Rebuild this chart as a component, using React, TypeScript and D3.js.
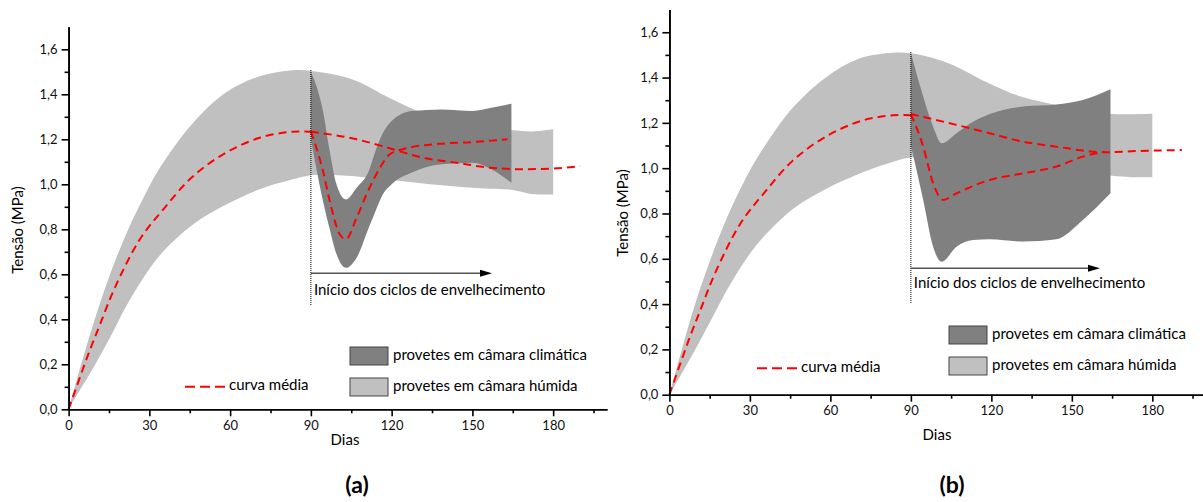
import React, { useEffect, useRef } from "react";
import * as d3 from "d3";

// dias e tensões
const humidaDays = [0, 3, 9.2, 15.4, 21.6, 27.8, 33.9, 46.3, 58.7, 71, 83.4, 90, 100, 107, 119, 131, 144, 156, 165, 172, 180];
const humidaUpperA = [0, 0.13, 0.38, 0.6, 0.785, 0.94, 1.074, 1.274, 1.41, 1.48, 1.507, 1.504, 1.485, 1.459, 1.385, 1.32, 1.27, 1.245, 1.24, 1.235, 1.245];
const humidaLowerA = [0, 0.062, 0.185, 0.319, 0.462, 0.585, 0.685, 0.822, 0.911, 0.978, 1.022, 1.04, 1.04, 1.035, 1.02, 1.005, 0.99, 0.98, 0.975, 0.957, 0.955];
const humidaUpperB = [0, 0.13, 0.386, 0.6, 0.785, 0.94, 1.068, 1.271, 1.404, 1.485, 1.51, 1.507, 1.48, 1.448, 1.375, 1.316, 1.279, 1.25, 1.239, 1.238, 1.24];
const humidaLowerB = [0, 0.062, 0.19, 0.327, 0.465, 0.585, 0.681, 0.822, 0.91, 0.976, 1.028, 1.047, 1.04, 1.035, 1.02, 1.0, 0.985, 0.975, 0.966, 0.96, 0.96];

const climaDaysA = [90, 94.5, 97, 99.5, 103, 107, 111.5, 114, 116.5, 120, 127.5, 138.5, 150, 157, 164.5];
const climaUpperA = [1.5, 1.326, 1.148, 1.0, 0.933, 0.985, 1.059, 1.148, 1.222, 1.281, 1.326, 1.333, 1.326, 1.34, 1.358];
const climaLowerA = [1.2, 0.926, 0.8, 0.69, 0.629, 0.674, 0.807, 0.88, 0.95, 1.0, 1.052, 1.089, 1.096, 1.067, 1.007];

const climaDaysB = [90, 94.6, 98.3, 101.5, 107, 113.2, 119.4, 131.8, 144.2, 154.1, 164.4];
const climaUpperB = [1.51, 1.316, 1.183, 1.11, 1.154, 1.205, 1.239, 1.272, 1.281, 1.301, 1.348];
const climaLowerB = [1.1, 0.86, 0.653, 0.587, 0.653, 0.683, 0.686, 0.676, 0.686, 0.771, 0.889];

const mediaDays = [0, 7.3, 11.7, 17.2, 26.5, 35.2, 45.7, 57.4, 71, 83.4, 90];
const mediaValues = [0, 0.244, 0.378, 0.541, 0.756, 0.889, 1.03, 1.133, 1.207, 1.234, 1.234];

const mediaHumidaDaysA = [90, 107, 119.3, 131.7, 144, 156.4, 168.8, 180, 190];
const mediaHumidaA = [1.234, 1.2, 1.16, 1.118, 1.096, 1.074, 1.067, 1.07, 1.08];
const mediaClimaDaysA = [90, 94.5, 97, 100.7, 103, 107, 110.7, 115.7, 119.3, 125.5, 137.9, 150.3, 158.9, 163];
const mediaClimaA = [1.234, 1.059, 0.926, 0.778, 0.756, 0.852, 0.956, 1.074, 1.133, 1.16, 1.18, 1.188, 1.196, 1.2];

const mediaHumidaDaysB = [90, 107, 119.4, 131.8, 144.2, 162.2, 175, 191];
const mediaHumidaB = [1.239, 1.191, 1.154, 1.117, 1.095, 1.07, 1.076, 1.08];
const mediaClimaDaysB = [90, 94.6, 98.3, 102, 107, 119.4, 131.8, 144.2, 154.1, 162.2];
const mediaClimaB = [1.239, 1.095, 0.933, 0.86, 0.889, 0.948, 0.977, 1.007, 1.051, 1.073];

const xMajor = [0, 30, 60, 90, 120, 150, 180];
const xMinor = [15, 45, 75, 105, 135, 165, 195];
const yMajor = [0, 0.2, 0.4, 0.6, 0.8, 1.0, 1.2, 1.4, 1.6];
const yMinor = [0.1, 0.3, 0.5, 0.7, 0.9, 1.1, 1.3, 1.5];

const FONT = "Lato, 'Open Sans', sans-serif";
const LIGHT = "#c0c0c0";
const DARK = "#808080";

type P = [number, number];
const zip = (xs: number[], ys: number[]): P[] => xs.map((x, i) => [x, ys[i]]);

function Panel(props: any) {
  const { x, y, humU, humL, cliDays, cliU, cliL, medHumDays, medHum, medCliDays, medCli, lay, tag } = props;
  const xRef = useRef<SVGGElement>(null);
  const xMinRef = useRef<SVGGElement>(null);
  const yRef = useRef<SVGGElement>(null);
  const yMinRef = useRef<SVGGElement>(null);

  useEffect(() => {
    const fmt = (d: any) => d3.format(".1f")(d).replace(".", ",");
    d3.select(xRef.current).call(d3.axisBottom(x).tickValues(xMajor).tickSize(7).tickSizeOuter(0).tickPadding(4));
    d3.select(xMinRef.current).call(d3.axisBottom(x).tickValues(xMinor).tickSize(4).tickFormat(() => "").tickSizeOuter(0));
    d3.select(yRef.current).call(d3.axisLeft(y).tickValues(yMajor).tickSize(7).tickSizeOuter(0).tickPadding(4).tickFormat(fmt));
    d3.select(yMinRef.current).call(d3.axisLeft(y).tickValues(yMinor).tickSize(4).tickFormat(() => "").tickSizeOuter(0));
    [xRef, yRef, xMinRef, yMinRef].forEach((r) => {
      const g = d3.select(r.current);
      g.selectAll("path").attr("stroke", "#000").attr("stroke-width", 1.6);
      g.selectAll("line").attr("stroke", "#000").attr("stroke-width", 1.6);
      g.selectAll("text").attr("font-family", FONT).attr("font-size", 13).attr("fill", "#111");
    });
  }, [x, y]);

  const band = d3
    .area<any>()
    .x((d) => x(d.day))
    .y0((d) => y(d.lo))
    .y1((d) => y(d.hi));
  const line = d3
    .line<P>()
    .x((d) => x(d[0]))
    .y((d) => y(d[1]));
  const smooth = d3.curveCatmullRom.alpha(0.5);

  const hum = humidaDays.map((d, i) => ({ day: d, hi: humU[i], lo: humL[i] }));
  const cli = cliDays.map((d: number, i: number) => ({ day: d, hi: cliU[i], lo: cliL[i] }));
  const red = { fill: "none", stroke: "#ff0000", strokeWidth: 2, strokeDasharray: "8,5" };

  return (
    <g>
      <path d={band.curve(smooth)(hum) || ""} fill={LIGHT} />
      <path d={band.curve(d3.curveMonotoneX)(cli) || ""} fill={DARK} />
      <path d={line.curve(smooth)(zip(mediaDays, mediaValues)) || ""} {...red} />
      <path d={line.curve(d3.curveMonotoneX)(zip(medHumDays, medHum)) || ""} {...red} />
      <path d={line.curve(d3.curveMonotoneX)(zip(medCliDays, medCli)) || ""} {...red} />

      <line x1={x(90)} x2={x(90)} y1={lay.dotTop} y2={lay.dotBottom} stroke="#000" strokeWidth={1} strokeDasharray="1,1" />
      <line x1={x(90)} x2={lay.arrowEnd - 8} y1={lay.arrowY} y2={lay.arrowY} stroke="#555" strokeWidth={1.6} />
      <polygon points={`${lay.arrowEnd},${lay.arrowY} ${lay.arrowEnd - 12},${lay.arrowY - 3.5} ${lay.arrowEnd - 12},${lay.arrowY + 3.5}`} fill="#000" />
      <text x={x(90) + 3} y={lay.noteY} dominantBaseline="middle" fontFamily={FONT} fontSize={15} fill="#000">
        Início dos ciclos de envelhecimento
      </text>

      <g ref={xMinRef} transform={`translate(0,${y(0)})`} />
      <g ref={xRef} transform={`translate(0,${y(0)})`} />
      <g ref={yMinRef} transform={`translate(${x(0)},0)`} />
      <g ref={yRef} transform={`translate(${x(0)},0)`} />

      <text transform={`translate(${lay.yLab[0]},${lay.yLab[1]}) rotate(-90)`} textAnchor="middle" dominantBaseline="middle" fontFamily={FONT} fontSize={15}>
        Tensão (MPa)
      </text>
      <text x={lay.xLab[0]} y={lay.xLab[1]} textAnchor="middle" dominantBaseline="middle" fontFamily={FONT} fontSize={15}>
        Dias
      </text>

      <rect x={lay.legX} y={lay.legY} width={38} height={18} fill={DARK} stroke="#444" strokeWidth={1} />
      <text x={lay.legX + 43} y={lay.legY + 9} dominantBaseline="middle" fontFamily={FONT} fontSize={15}>
        provetes em câmara climática
      </text>
      <rect x={lay.legX} y={lay.legY + 31} width={38} height={18} fill={LIGHT} stroke="#444" strokeWidth={1} />
      <text x={lay.legX + 43} y={lay.legY + 40} dominantBaseline="middle" fontFamily={FONT} fontSize={15}>
        provetes em câmara húmida
      </text>
      <line x1={lay.medX} x2={lay.medX + 40} y1={lay.medY} y2={lay.medY} {...red} strokeDasharray="10,5" />
      <text x={lay.medX + 44} y={lay.medY} dominantBaseline="middle" fontFamily={FONT} fontSize={15}>
        curva média
      </text>

      <text x={lay.tag[0]} y={lay.tag[1]} textAnchor="middle" dominantBaseline="middle" fontFamily={FONT} fontSize={23} fontWeight="bold">
        {tag}
      </text>
    </g>
  );
}

export default function App() {
  const xA = d3.scaleLinear().domain([0, 200]).range([68.6, 607]);
  const yA = d3.scaleLinear().domain([0, 1.7]).range([409.3, 26.8]);
  const xB = d3.scaleLinear().domain([0, 200]).range([669.4, 1206]);
  const yB = d3.scaleLinear().domain([0, 1.7]).range([394.7, 9.6]);

  return (
    <svg width={1203} height={502} style={{ position: "absolute", left: 0, top: 0, background: "#fff" }}>
      <Panel
        x={xA}
        y={yA}
        humU={humidaUpperA}
        humL={humidaLowerA}
        cliDays={climaDaysA}
        cliU={climaUpperA}
        cliL={climaLowerA}
        medHumDays={mediaHumidaDaysA}
        medHum={mediaHumidaA}
        medCliDays={mediaClimaDaysA}
        medCli={mediaClimaA}
        tag="(a)"
        lay={{ dotTop: 70, dotBottom: 305, arrowY: 273.3, arrowEnd: 492, noteY: 291, yLab: [19, 230], xLab: [345, 441], legX: 350, legY: 347, medX: 185, medY: 386.7, tag: [357, 487] }}
      />
      <Panel
        x={xB}
        y={yB}
        humU={humidaUpperB}
        humL={humidaLowerB}
        cliDays={climaDaysB}
        cliU={climaUpperB}
        cliL={climaLowerB}
        medHumDays={mediaHumidaDaysB}
        medHum={mediaHumidaB}
        medCliDays={mediaClimaDaysB}
        medCli={mediaClimaB}
        tag="(b)"
        lay={{ dotTop: 52, dotBottom: 303, arrowY: 268.3, arrowEnd: 1100, noteY: 284, yLab: [624, 213], xLab: [937, 436], legX: 949, legY: 326, medX: 757, medY: 368.3, tag: [952, 487] }}
      />
    </svg>
  );
}
